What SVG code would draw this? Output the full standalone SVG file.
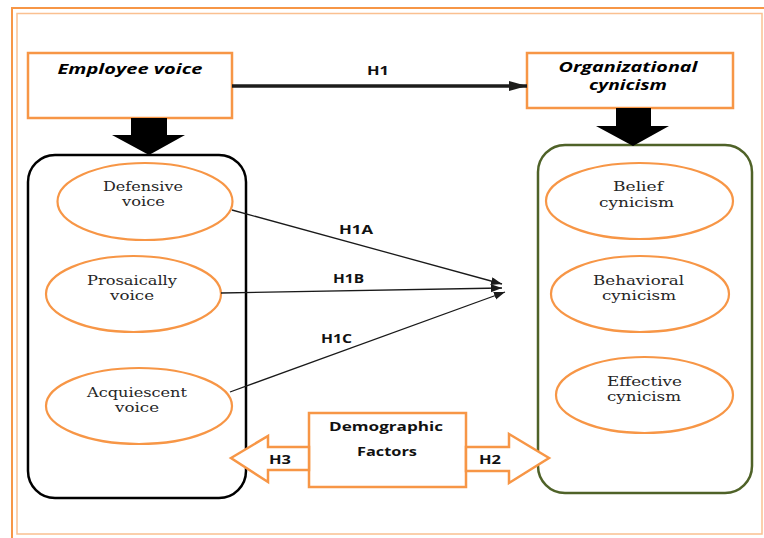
<svg xmlns="http://www.w3.org/2000/svg" width="764" height="538" viewBox="0 0 764 538">
<style>
.frame-o{fill:none;stroke:#F79646;stroke-width:2}
.frame-i{fill:none;stroke:#FAC090;stroke-width:1.5}
.box{fill:#fff;stroke:#F79646;stroke-width:2.5}
.ell{fill:#fff;stroke:#F79646;stroke-width:2.2}
.blk{fill:#000}
.harrow{fill:#fff;stroke:#F79646;stroke-width:2.5;stroke-linejoin:miter}
.title{font-family:"Open Sans","Liberation Sans",sans-serif;font-weight:bold;font-style:italic;font-size:13.5px;fill:#000;text-anchor:middle}
.lbl{font-family:"Open Sans","Liberation Sans",sans-serif;font-weight:bold;font-size:12px;fill:#111;text-anchor:middle}
.ser{font-family:"DejaVu Serif","Liberation Serif",serif;font-size:12.5px;fill:#262626;text-anchor:middle}
.thin{fill:none;stroke:#1a1a1a;stroke-width:1.3}
.thick{fill:none;stroke:#1d1d1b;stroke-width:3.5}
</style>
<defs>
<marker id="headBig" markerUnits="userSpaceOnUse" markerWidth="20" markerHeight="12" refX="18" refY="5" orient="auto">
<path d="M0,0 L18,5 L0,10 Z" fill="#1d1d1b"/>
</marker>
<marker id="headSmall" markerUnits="userSpaceOnUse" markerWidth="12" markerHeight="10" refX="11" refY="4" orient="auto">
<path d="M0,0 L11,4 L0,8 Z" fill="#1a1a1a"/>
</marker>
</defs>
<rect x="0" y="0" width="764" height="538" fill="#fff"/>
<g id="frame">
<rect class="frame-o" x="12" y="8" width="770" height="545"/>
<rect class="frame-i" x="17" y="13.5" width="745" height="520.5"/>
</g>

<g id="employee-voice">
<rect class="box" x="28" y="53" width="204" height="65"/>
<text class="title" x="130" y="73.5" textLength="145" lengthAdjust="spacingAndGlyphs">Employee voice</text>
</g>

<g id="organizational-cynicism">
<rect class="box" x="527" y="53" width="206" height="55"/>
<text class="title" x="628" y="71.5" textLength="139" lengthAdjust="spacingAndGlyphs">Organizational</text>
<text class="title" x="628" y="90" textLength="78" lengthAdjust="spacingAndGlyphs">cynicism</text>
</g>

<g id="voice-container">
<rect x="28" y="155" width="218" height="343" rx="27" ry="27" fill="none" stroke="#000" stroke-width="2.5"/>
</g>

<g id="cynicism-container">
<rect x="538" y="145" width="214" height="348" rx="27" ry="27" fill="none" stroke="#4F6228" stroke-width="2.5"/>
</g>

<g id="defensive-voice">
<ellipse class="ell" cx="145" cy="201.5" rx="87.5" ry="38.5"/>
<text class="ser" x="143" y="190.5" textLength="80" lengthAdjust="spacingAndGlyphs">Defensive</text>
<text class="ser" x="143.5" y="206" textLength="43" lengthAdjust="spacingAndGlyphs">voice</text>
</g>

<g id="prosaically-voice">
<ellipse class="ell" cx="133.5" cy="294" rx="87.5" ry="38"/>
<text class="ser" x="132" y="284.5" textLength="90" lengthAdjust="spacingAndGlyphs">Prosaically</text>
<text class="ser" x="132" y="300" textLength="44" lengthAdjust="spacingAndGlyphs">voice</text>
</g>

<g id="acquiescent-voice">
<ellipse class="ell" cx="139" cy="406" rx="93" ry="38"/>
<text class="ser" x="137" y="396.5" textLength="100" lengthAdjust="spacingAndGlyphs">Acquiescent</text>
<text class="ser" x="137" y="412" textLength="44" lengthAdjust="spacingAndGlyphs">voice</text>
</g>

<g id="belief-cynicism">
<ellipse class="ell" cx="639.5" cy="201" rx="93.5" ry="38"/>
<text class="ser" x="638" y="191" textLength="50" lengthAdjust="spacingAndGlyphs">Belief</text>
<text class="ser" x="636.5" y="206.5" textLength="75" lengthAdjust="spacingAndGlyphs">cynicism</text>
</g>

<g id="behavioral-cynicism">
<ellipse class="ell" cx="640" cy="294" rx="89" ry="38"/>
<text class="ser" x="638.5" y="284.5" textLength="91" lengthAdjust="spacingAndGlyphs">Behavioral</text>
<text class="ser" x="639" y="300" textLength="74" lengthAdjust="spacingAndGlyphs">cynicism</text>
</g>

<g id="effective-cynicism">
<ellipse class="ell" cx="644.5" cy="395" rx="88.5" ry="38"/>
<text class="ser" x="644.5" y="385.5" textLength="75" lengthAdjust="spacingAndGlyphs">Effective</text>
<text class="ser" x="644" y="401" textLength="74" lengthAdjust="spacingAndGlyphs">cynicism</text>
</g>

<g id="demographic-factors">
<rect class="box" x="309" y="413" width="157" height="74"/>
<text class="lbl" x="386" y="430.5" textLength="114" lengthAdjust="spacingAndGlyphs">Demographic</text>
<text class="lbl" x="387" y="455.5" textLength="60" lengthAdjust="spacingAndGlyphs">Factors</text>
</g>

<g id="connectors">
<polygon class="blk" points="131,118 167,118 167,135 185,135 149,155 112,135 131,135"/>
<polygon class="blk" points="616,108 651,108 651,126 669,126 633,146 596,126 616,126"/>
<line class="thick" x1="232" y1="86" x2="527" y2="86" marker-end="url(#headBig)"/>
<text class="lbl" x="378" y="74.5" textLength="22" lengthAdjust="spacingAndGlyphs">H1</text>
<line class="thin" x1="232" y1="210" x2="502" y2="284" marker-end="url(#headSmall)"/>
<line class="thin" x1="221" y1="293" x2="502" y2="288" marker-end="url(#headSmall)"/>
<line class="thin" x1="230" y1="392" x2="505" y2="292" marker-end="url(#headSmall)"/>
<text class="lbl" x="356" y="233.5" textLength="34" lengthAdjust="spacingAndGlyphs">H1A</text>
<text class="lbl" x="348.5" y="282.5" textLength="31" lengthAdjust="spacingAndGlyphs">H1B</text>
<text class="lbl" x="336.5" y="342.5" textLength="31" lengthAdjust="spacingAndGlyphs">H1C</text>
<polygon class="harrow" points="231,458 268,436 268,447 309,447 309,470 268,470 268,482"/>
<text class="lbl" x="280" y="463.5" textLength="22" lengthAdjust="spacingAndGlyphs">H3</text>
<polygon class="harrow" points="466,447 509,447 509,434 549,458 509,483 509,471 466,471"/>
<text class="lbl" x="490" y="463.5" textLength="22" lengthAdjust="spacingAndGlyphs">H2</text>
</g>
</svg>
